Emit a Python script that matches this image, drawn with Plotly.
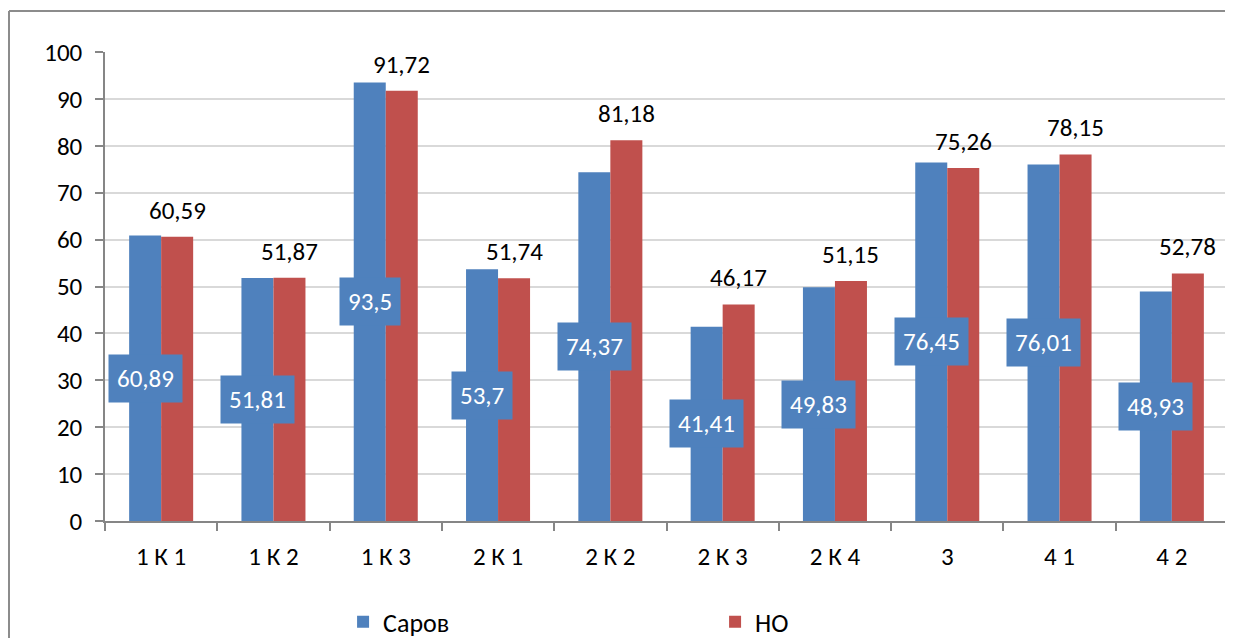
import plotly.graph_objects as go

categories = ["1 К 1", "1 К 2", "1 К 3", "2 К 1", "2 К 2", "2 К 3", "2 К 4", "3", "4 1", "4 2"]
sarov = [60.89, 51.81, 93.5, 53.7, 74.37, 41.41, 49.83, 76.45, 76.01, 48.93]
no_vals = [60.59, 51.87, 91.72, 51.74, 81.18, 46.17, 51.15, 75.26, 78.15, 52.78]
y_ticks = [0, 10, 20, 30, 40, 50, 60, 70, 80, 90, 100]

BLUE = "#4F81BD"
RED = "#C0504D"
FONT = "Carlito, Lato, sans-serif"

def fmt(v):
    s = ("%.2f" % v).rstrip("0").rstrip(".")
    return s.replace(".", ",")

fig = go.Figure()
fig.add_trace(go.Bar(name="Саров", x=categories, y=sarov, marker_color=BLUE, marker_line_width=0))
fig.add_trace(go.Bar(name="НО", x=categories, y=no_vals, marker_color=RED, marker_line_width=0))

annotations = []
for i, v in enumerate(sarov):
    annotations.append(dict(x=i, y=v / 2, xref="x", yref="y", text=fmt(v), showarrow=False,
                            xshift=-16, font=dict(family=FONT, size=25, color="white"),
                            bgcolor=BLUE, borderpad=8, xanchor="center", yanchor="middle"))
for i, v in enumerate(no_vals):
    annotations.append(dict(x=i, y=v, xref="x", yref="y", text=fmt(v), showarrow=False,
                            xshift=16, yshift=9, font=dict(family=FONT, size=25, color="black"),
                            xanchor="center", yanchor="bottom"))

bx0 = (9 - 105) / 1123
bx1 = (1300 - 105) / 1123
by1 = (521 - 11) / 469
border = dict(color="#8C8C8C", width=2)

# page body has an 8px margin; figure sized to fit the window, plot area at x 105-1228, y 52-521 on screen
fig.update_layout(
    width=1225, height=630,
    margin=dict(l=97, r=5, t=44, b=117, autoexpand=False),
    paper_bgcolor="white", plot_bgcolor="white",
    barmode="group", bargap=0.43, bargroupgap=0,
    font=dict(family=FONT, size=25, color="black"),
    annotations=annotations,
    showlegend=True,
    legend=dict(orientation="h", x=0.212, xanchor="left", y=-0.215, yanchor="middle",
                entrywidth=327, entrywidthmode="pixels",
                font=dict(family=FONT, size=26, color="black"),
                bgcolor="rgba(0,0,0,0)"),
    shapes=[
        dict(type="line", xref="paper", yref="paper", x0=bx0, x1=bx0, y0=-0.5, y1=by1,
             line=border, layer="below"),
        dict(type="line", xref="paper", yref="paper", x0=bx0, x1=bx1, y0=by1, y1=by1,
             line=border, layer="below"),
    ],
)
fig.update_yaxes(range=[0, 100], tickvals=y_ticks, showgrid=True, gridcolor="#D9D9D9", gridwidth=2,
                 showline=True, linecolor="#868686", linewidth=1.5, ticks="outside", ticklen=8,
                 tickcolor="#868686", tickwidth=1.5, ticklabelstandoff=8, zeroline=False,
                 tickfont=dict(family=FONT, size=25, color="black"), fixedrange=True)
fig.update_xaxes(type="category", showline=True, linecolor="#868686", linewidth=1.5, ticks="outside", ticklen=8,
                 tickcolor="#868686", tickwidth=1.5, tickson="boundaries", ticklabelstandoff=12,
                 tickfont=dict(family=FONT, size=25, color="black"), showgrid=False)

fig.write_html("out.html")
